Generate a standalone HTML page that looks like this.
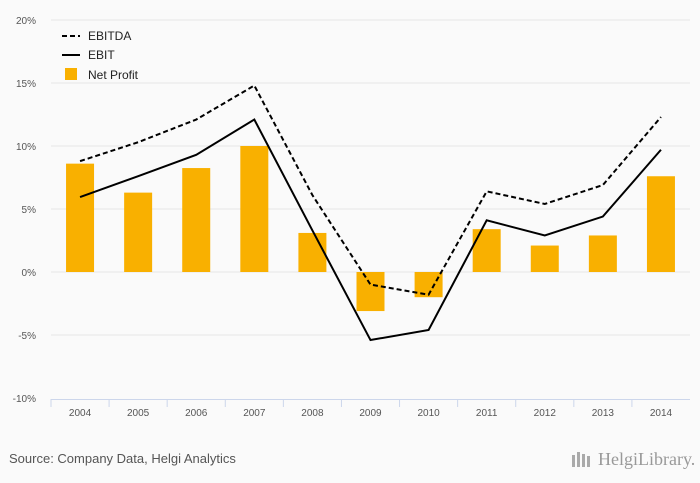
<!DOCTYPE html>
<html><head><meta charset="utf-8"><style>
body{margin:0;background:#fafafa;font-family:"Liberation Sans",sans-serif;}
svg{display:block}
</style></head><body>
<svg id="c" width="700" height="483">
<rect width="700" height="483" fill="#fafafa"/>
<g id="grid"></g><g id="bars"></g><g id="lines"></g><g id="axis"></g>
<g font-size="12" fill="#222">
<line x1="62" y1="36" x2="80" y2="36" stroke="#000" stroke-width="2" stroke-dasharray="5,3"/>
<text x="88" y="40">EBITDA</text>
<line x1="62" y1="55" x2="80" y2="55" stroke="#000" stroke-width="2"/>
<text x="88" y="59">EBIT</text>
<rect x="65" y="68" width="12" height="12" fill="#f9b000"/>
<text x="88" y="79">Net Profit</text>
</g>
<text x="9" y="463" font-size="13" fill="#555">Source: Company Data, Helgi Analytics</text>
<text x="598" y="465" font-size="18" fill="#999" font-family="Liberation Serif,serif">HelgiLibrary.</text>
<g fill="#aaa"><rect x="572" y="455" width="3" height="12"/><rect x="577" y="452" width="3" height="15"/><rect x="582" y="454" width="3" height="13"/><rect x="587" y="456" width="3" height="11"/></g>
</svg>
<script>
const years=["2004","2005","2006","2007","2008","2009","2010","2011","2012","2013","2014"];
const netProfit=[8.6,6.3,8.25,10.0,3.1,-3.1,-2.0,3.4,2.1,2.9,7.6];
const ebit=[5.95,7.6,9.3,12.1,3.3,-5.4,-4.6,4.1,2.9,4.4,9.7];
const ebitda=[8.8,10.3,12.1,14.8,6.1,-1.0,-1.8,6.4,5.4,6.9,12.3];
const yTicks=[20,15,10,5,0,-5,-10];
const NS="http://www.w3.org/2000/svg";
const X0=51,X1=690,bw=(X1-X0)/years.length;
const xc=i=>X0+bw*(i+0.5);
const y=v=>272-v*12.6;
function el(t,a,p){const e=document.createElementNS(NS,t);for(const k in a)e.setAttribute(k,a[k]);document.getElementById(p).appendChild(e);return e;}
yTicks.forEach(t=>{
 if(t!==-10){const g=el('line',{x1:X0,x2:X1,y1:y(t),y2:y(t),stroke:'#e6e6e6'},'grid');
 
 }
 const tx=el('text',{x:36,y:y(t)+4,'font-size':10,fill:'#555','text-anchor':'end'},'axis');tx.textContent=t+'%';
 
 
});
const ax=el('line',{x1:X0,x2:X1,y1:399.5,y2:399.5,stroke:'#ccd6eb'},'axis');


years.forEach((yr,i)=>{
 const tk=el('line',{x1:X0+bw*i,x2:X0+bw*i,y1:399,y2:407,stroke:'#ccd6eb'},'axis');
 
 
 const tx=el('text',{x:xc(i),y:416,'font-size':10,fill:'#555','text-anchor':'middle'},'axis');tx.textContent=yr;
 
 
 const v=netProfit[i];
 const b=el('rect',{x:xc(i)-14,width:28,y:Math.min(y(v),y(0)),height:Math.abs(y(v)-y(0)),fill:'#f9b000'},'bars');
 
 
});
[[ebitda,'5,3','line-ebitda'],[ebit,'','line-ebit']].forEach(([d,da,n])=>{
 const p=el('polyline',{points:d.map((v,i)=>xc(i)+','+y(v)).join(' '),fill:'none',stroke:'#000','stroke-width':2,'stroke-dasharray':da||'none'},'lines');
 
 
});
</script>
</body></html>
